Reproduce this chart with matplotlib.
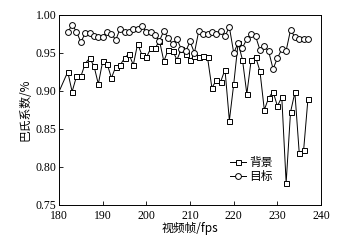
import matplotlib.pyplot as plt
import numpy as np

# frames (background line starts at 180, its first marker is at 182)
bg_frames = [180] + list(range(182, 238))
tg_frames = list(range(182, 238))

# background (背景)
bg_vals = [0.899,
           0.925, 0.899, 0.919, 0.919, 0.936, 0.943, 0.933, 0.909, 0.939, 0.936,
           0.917, 0.932, 0.934, 0.943, 0.949, 0.934, 0.962, 0.947, 0.944, 0.956,
           0.956, 0.966, 0.939, 0.954, 0.953, 0.941, 0.955, 0.948, 0.941, 0.946,
           0.945, 0.946, 0.944, 0.904, 0.914, 0.912, 0.928, 0.861, 0.909, 0.963,
           0.941, 0.896, 0.941, 0.945, 0.926, 0.875, 0.891, 0.899, 0.880, 0.892,
           0.779, 0.872, 0.898, 0.818, 0.822, 0.890]

# target (目标)
tg_vals = [0.977, 0.987, 0.978, 0.964, 0.976, 0.976, 0.972, 0.971, 0.971, 0.978,
           0.975, 0.967, 0.982, 0.977, 0.978, 0.982, 0.982, 0.986, 0.977, 0.978,
           0.973, 0.966, 0.979, 0.969, 0.962, 0.968, 0.955, 0.952, 0.965, 0.950,
           0.979, 0.975, 0.975, 0.978, 0.975, 0.979, 0.972, 0.984, 0.950, 0.963,
           0.957, 0.968, 0.975, 0.972, 0.954, 0.959, 0.952, 0.929, 0.943, 0.955,
           0.953, 0.980, 0.971, 0.968, 0.968, 0.968]

cjk = ['Noto Sans CJK SC', 'Liberation Serif']
plt.rcParams['font.family'] = ['Liberation Serif', 'Noto Sans CJK SC']
plt.rcParams['font.size'] = 8

fig = plt.figure(figsize=(3.62, 2.44), dpi=100)
ax = fig.add_axes([0.163, 0.160, 0.724, 0.779])

ax.plot(bg_frames, bg_vals, color='black', lw=0.7, marker='s', ms=3.6,
        mfc='white', mec='black', mew=0.7, markevery=slice(1, None), label='背景')
ax.plot(tg_frames, tg_vals, color='black', lw=0.7, marker='o', ms=4.2,
        mfc='white', mec='black', mew=0.7, label='目标')

ax.set_xlim(180, 240)
ax.set_ylim(0.75, 1.00)
ax.set_xticks(np.arange(180, 241, 10))
ax.set_yticks([0.75, 0.80, 0.85, 0.90, 0.95, 1.00])
ax.set_yticklabels(['%.2f' % v for v in ax.get_yticks()])
ax.tick_params(direction='in', length=3, width=0.6, labelsize=8.5)
ax.tick_params(axis='x', pad=3.5)
ax.tick_params(axis='y', pad=2)
for s in ax.spines.values():
    s.set_linewidth(0.7)

ax.set_xlabel('视频帧/fps', family=cjk, fontsize=8.5, labelpad=0)
ax.set_ylabel('巴氏系数/%', family=cjk, fontsize=8.5, labelpad=3)

ax.legend(loc='lower left', bbox_to_anchor=(0.61, 0.06), frameon=False,
          handlelength=1.4, handletextpad=0.3, labelspacing=0.1,
          prop={'family': cjk, 'size': 8.5})

fig.savefig('out.png', dpi=100)
